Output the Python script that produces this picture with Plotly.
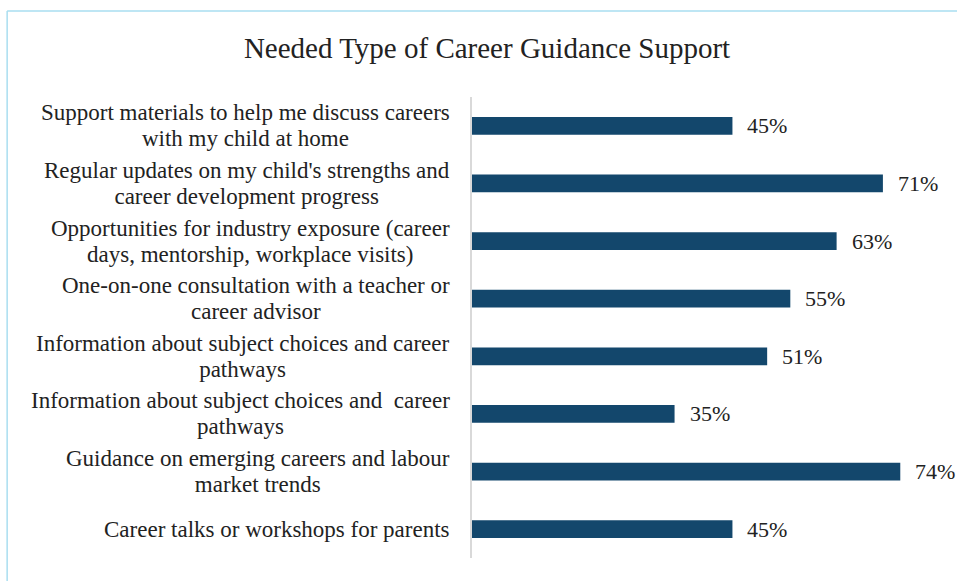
import plotly.graph_objects as go

# Survey results: share of parents who want each type of support
categories = [
    "Support materials to help me discuss careers<br>with my child at home",
    "Regular updates on my child's strengths and<br>career development progress",
    "Opportunities for industry exposure (career<br>days, mentorship, workplace visits)",
    "One-on-one consultation with a teacher or<br>career advisor",
    "Information about subject choices and career<br>pathways",
    "Information about subject choices and  career<br>pathways",
    "Guidance on emerging careers and labour<br>market trends",
    "Career talks or workshops for parents",
]
values = [45, 71, 63, 55, 51, 35, 74, 45]
value_labels = [f"{v}%" for v in values]
positions = list(range(len(categories)))

FONT = "Liberation Serif"
BAR_COLOR = "#13476c"
TEXT_COLOR = "#222222"


def sized(label, px):
    """Wrap each line of a label in a span of the given font size."""
    return "<br>".join(
        f"<span style='font-size:{px}px'>{line}</span>" for line in label.split("<br>")
    )


fig = go.Figure(
    go.Bar(
        x=values,
        y=positions,
        orientation="h",
        marker=dict(color=BAR_COLOR, line=dict(width=0)),
        width=0.31,
        hoverinfo="skip",
    )
)

# Value labels just past the end of each bar
for pos, val, lab in zip(positions, values, value_labels):
    fig.add_annotation(
        x=val, xref="x", y=pos, yref="y",
        text=lab, showarrow=False,
        xanchor="left", yanchor="middle", xshift=13,
        font=dict(family=FONT, size=22, color=TEXT_COLOR),
    )

# Category labels: right-aligned block, lines centred within it;
# base size 20 keeps the line pitch tight while glyphs render at 23px
for pos, label in zip(positions, categories):
    fig.add_annotation(
        x=0, xref="paper", y=pos, yref="y",
        text=sized(label, 23), showarrow=False,
        xanchor="right", yanchor="middle", align="center",
        xshift=-20,
        font=dict(family=FONT, size=20, color=TEXT_COLOR),
    )

# Light blue frame around the chart area
fig.add_shape(type="line", xref="paper", yref="paper",
              x0=-1.004, x1=1.2, y0=1.1866, y1=1.1866,
              line=dict(color="#a9def0", width=1.5))
fig.add_shape(type="line", xref="paper", yref="paper",
              x0=-1.004, x1=-1.004, y0=1.1866, y1=-0.1,
              line=dict(color="#a9def0", width=1.5))

fig.update_layout(
    width=957, height=581,
    margin=dict(l=472, r=22, t=97, b=23),
    paper_bgcolor="white", plot_bgcolor="white",
    title=dict(
        text="Needed Type of Career Guidance Support",
        x=487 / 957, xanchor="center", xref="container",
        y=1 - 48 / 581, yanchor="middle", yref="container",
        font=dict(family=FONT, size=29, color=TEXT_COLOR),
    ),
    xaxis=dict(range=[0, 80], visible=False, fixedrange=True),
    yaxis=dict(
        range=[7.5, -0.5], showticklabels=False, ticks="",
        showgrid=False, zeroline=False,
        showline=True, linecolor="#d9d9d9", linewidth=1.5,
        fixedrange=True,
    ),
    showlegend=False,
)

fig.write_html("out.html")
